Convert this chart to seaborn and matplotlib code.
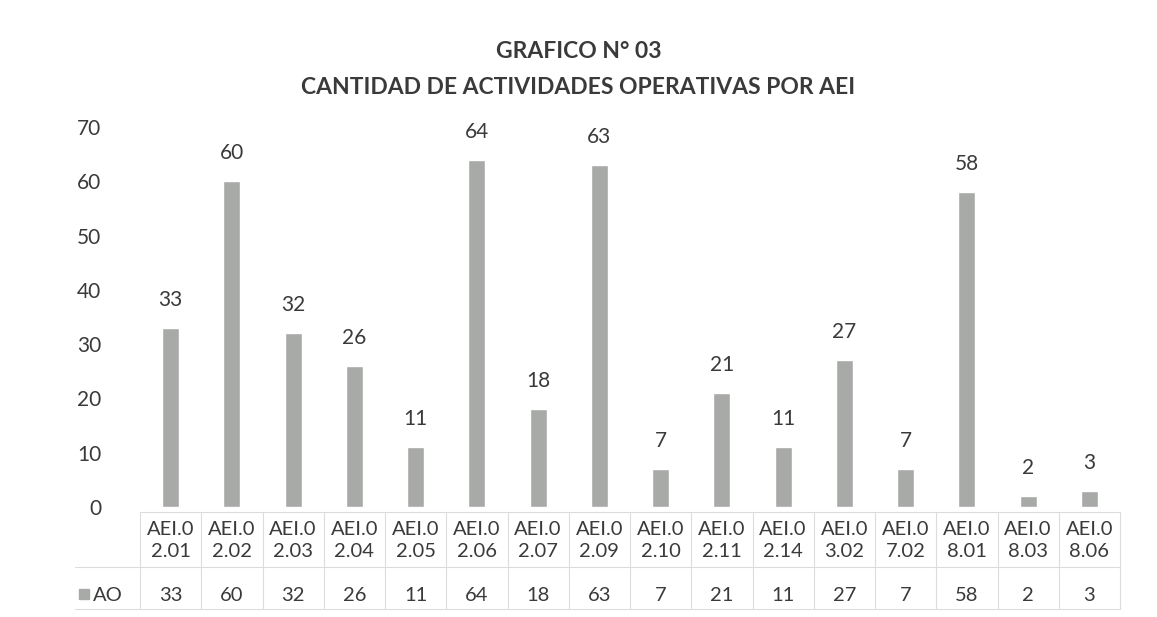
import numpy as np
import pandas as pd
import matplotlib
matplotlib.use("Agg")
import matplotlib.pyplot as plt
import seaborn as sns

# Datos
aei_codigos = ["AEI.0\n2.01", "AEI.0\n2.02", "AEI.0\n2.03", "AEI.0\n2.04", "AEI.0\n2.05",
               "AEI.0\n2.06", "AEI.0\n2.07", "AEI.0\n2.09", "AEI.0\n2.10", "AEI.0\n2.11",
               "AEI.0\n2.14", "AEI.0\n3.02", "AEI.0\n7.02", "AEI.0\n8.01", "AEI.0\n8.03",
               "AEI.0\n8.06"]
cantidad_ao = [33, 60, 32, 26, 11, 64, 18, 63, 7, 21, 11, 27, 7, 58, 2, 3]
serie = "AO"
yticks = [0, 10, 20, 30, 40, 50, 60, 70]

df = pd.DataFrame({"AEI": aei_codigos, "AO": cantidad_ao})

sns.set_style("white")
plt.rcParams["font.family"] = ["Lato", "DejaVu Sans"]

gris = "#a8aaa7"
texto = "#3a3a3a"
linea = "#dcdcdc"

fig = plt.figure(figsize=(11.57, 6.17), dpi=100)
ax = fig.add_axes([140 / 1157, 110 / 617, 980 / 1157, 380 / 617])

sns.barplot(data=df, x="AEI", y="AO", color=gris, width=0.28, saturation=1, ax=ax)
ax.set_ylim(0, 70)
ax.set_xlim(-0.5, len(aei_codigos) - 0.5)
ax.set_yticks(yticks)
ax.tick_params(axis="y", length=0, labelsize=15, labelcolor=texto, pad=28)
ax.set_xticks([])
ax.set_xlabel("")
ax.set_ylabel("")
sns.despine(ax=ax, left=True, bottom=True)

# etiquetas de datos
for i, v in enumerate(cantidad_ao):
    ax.annotate(str(v), (i, v), xytext=(0, 13), textcoords="offset points",
                ha="center", va="bottom", fontsize=15, color=texto)

# tabla de datos debajo
tr = ax.get_xaxis_transform()
n = len(aei_codigos)
y_top, y_mid, y_bot = -0.013, -0.158, -0.268
for i, (lab, v) in enumerate(zip(aei_codigos, cantidad_ao)):
    ax.text(i, -0.088, lab, transform=tr, ha="center", va="center", fontsize=14.5,
            color=texto, linespacing=1.4, clip_on=False)
    ax.text(i, -0.232, str(v), transform=tr, ha="center", va="center", fontsize=14.5,
            color=texto, clip_on=False)
x_leg = -0.5 - 65 / 61.25
for xb in np.arange(-0.5, n, 1.0):
    ax.plot([xb, xb], [y_top, y_bot], transform=tr, color=linea, lw=0.8, clip_on=False)
ax.plot([-0.5, n - 0.5], [y_top, y_top], transform=tr, color=linea, lw=0.8, clip_on=False)
ax.plot([x_leg, n - 0.5], [y_mid, y_mid], transform=tr, color=linea, lw=0.8, clip_on=False)
ax.plot([x_leg, n - 0.5], [y_bot, y_bot], transform=tr, color=linea, lw=0.8, clip_on=False)
ax.plot([x_leg + 0.15], [-0.230], transform=tr, marker="s", markersize=7.5, color=gris,
        clip_on=False)
ax.text(x_leg + 0.3, -0.232, serie, transform=tr, ha="left", va="center", fontsize=14.5,
        color=texto, clip_on=False)

fig.text(0.5, 1 - 52 / 617, "GRAFICO N° 03", ha="center", va="center", fontsize=16.5,
         fontweight="bold", color=texto)
fig.text(0.5, 1 - 88 / 617, "CANTIDAD DE ACTIVIDADES OPERATIVAS POR AEI", ha="center",
         va="center", fontsize=16.5, fontweight="bold", color=texto)

plt.savefig("out.png", dpi=100)
plt.close()
